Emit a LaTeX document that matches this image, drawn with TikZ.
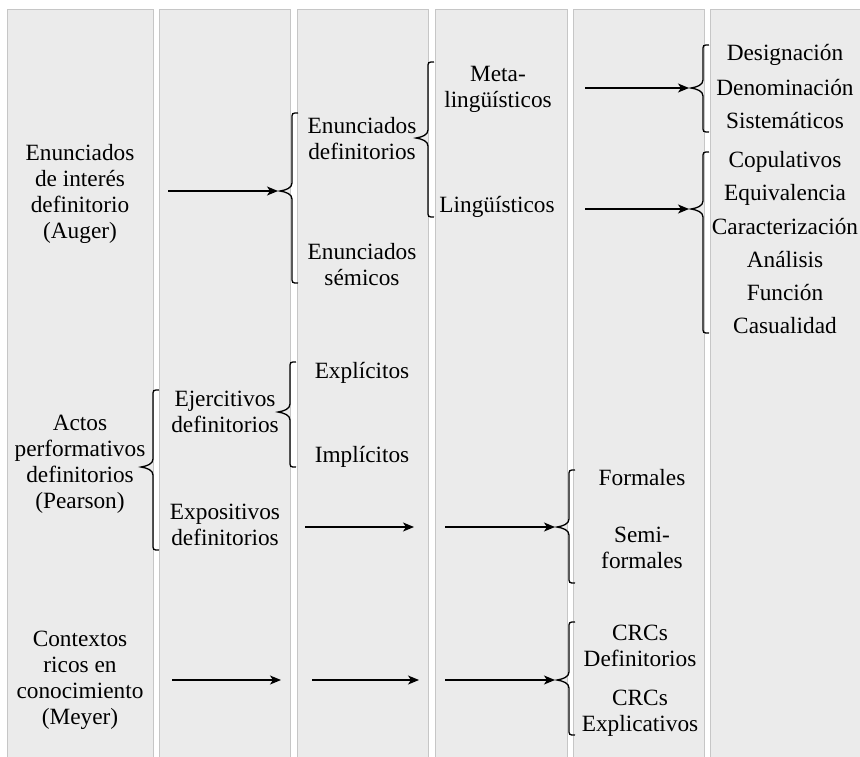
\documentclass[tikz,border=0pt]{standalone}
\usepackage{fontspec}
\setmainfont{Liberation Serif}
\usetikzlibrary{arrows.meta}
\definecolor{colfill}{HTML}{EBEBEB}
\definecolor{colline}{HTML}{C6C6C6}

% curly brace opening to the right: name, spine x, top y, tip y, bottom y
\newcommand{\curlybrace}[5]{%
  \coordinate (#1) at ({#2-12},#4);
  \draw[bracepath] ({#2+6},#3) .. controls (#2,#3) .. (#2,{#3+6})
    -- (#2,{#4-8}) .. controls (#2,{#4-3}) and ({#2-6},{#4-1}) .. (#1)
    .. controls ({#2-6},{#4+1}) and (#2,{#4+3}) .. (#2,{#4+8})
    -- (#2,{#5-6}) .. controls (#2,#5) .. ({#2+6},#5);
}

\begin{document}
\begin{tikzpicture}[x=1pt,y=-1pt,
  colbox/.style={fill=colfill},
  coledge/.style={draw=colline,line width=1pt},
  txt/.style={font=\fontsize{23.3}{26}\selectfont,align=center,inner sep=0pt},
  bracepath/.style={draw=black,line width=1.3pt},
  conn/.style={draw=black,line width=1.4pt,-{Stealth[length=11pt,width=9pt,inset=3pt]}}]

\useasboundingbox (0,0) rectangle (860,756);

% column bands
\foreach \l/\r in {7/153,159/290,297/428,435/567,573/704}{
  \fill[colbox] (\l,9) rectangle (\r,760);
  \draw[coledge] (\l,760) -- (\l,9) -- (\r,9) -- (\r,760);
}
\fill[colbox] (710,9) rectangle (866,760);
\draw[coledge] (710,760) -- (710,9) -- (866,9);

% first column
\node[txt] (auger) at (80,194) {Enunciados\\de interés\\definitorio\\(Auger)};
\node[txt] (pearson) at (80,464) {Actos\\performativos\\definitorios\\(Pearson)};
\node[txt] (meyer) at (80,680) {Contextos\\ricos en\\conocimiento\\(Meyer)};

% Auger branch
\node[txt] (enudef) at (362,139) {Enunciados\\definitorios};
\node[txt] (enusem) at (362,265) {Enunciados\\sémicos};
\node[txt] (meta) at (498,89) {Meta-\\lingüísticos};
\node[txt] (ling) at (497,207) {Lingüísticos};
\node[txt] (desig) at (785,55) {Designación};
\node[txt] (denom) at (785,88) {Denominación};
\node[txt] (siste) at (785,121) {Sistemáticos};
\node[txt] (copul) at (785,162) {Copulativos};
\node[txt] (equiv) at (785,195) {Equivalencia};
\node[txt] (carac) at (785,227) {Caracterización};
\node[txt] (anali) at (785,260) {Análisis};
\node[txt] (funci) at (785,293) {Función};
\node[txt] (casua) at (785,326) {Casualidad};

% Pearson branch
\node[txt] (ejer) at (225,412) {Ejercitivos\\definitorios};
\node[txt] (expo) at (225,525) {Expositivos\\definitorios};
\node[txt] (expl) at (362,373) {Explícitos};
\node[txt] (impl) at (362,457) {Implícitos};
\node[txt] (form) at (642,478) {Formales};
\node[txt] (semi) at (642,548) {Semi-\\formales};

% Meyer branch
\node[txt] (crcdef) at (640,646) {CRCs\\Definitorios};
\node[txt] (crcexp) at (640,713) {CRCs\\Explicativos};

% braces
\curlybrace{bA}{292}{113}{191}{283}
\curlybrace{bB}{428}{62}{138}{217}
\curlybrace{bC}{703}{45}{88}{132}
\curlybrace{bD}{703}{152}{209}{333}
\curlybrace{bE}{153}{390}{467}{550}
\curlybrace{bF}{290}{362}{412}{467}
\curlybrace{bG}{569}{470}{527}{583}
\curlybrace{bH}{569}{622}{680}{735}

% connector start and free end points
\coordinate (sA) at (168,191);
\coordinate (sC) at (585,88);
\coordinate (sD) at (585,209);
\coordinate (sG1) at (305,527);
\coordinate (eG1) at (414,527);
\coordinate (sG2) at (445,527);
\coordinate (sH1) at (172,680);
\coordinate (eH1) at (281,680);
\coordinate (sH2) at (312,680);
\coordinate (eH2) at (419,680);
\coordinate (sH3) at (445,680);

% connectors
\draw[conn,shorten >=2pt] (sA) -- (bA);
\draw[conn,shorten >=2pt] (sC) -- (bC);
\draw[conn,shorten >=2pt] (sD) -- (bD);
\draw[conn] (sG1) -- (eG1);
\draw[conn,shorten >=2pt] (sG2) -- (bG);
\draw[conn] (sH1) -- (eH1);
\draw[conn] (sH2) -- (eH2);
\draw[conn,shorten >=2pt] (sH3) -- (bH);

\end{tikzpicture}
\end{document}
